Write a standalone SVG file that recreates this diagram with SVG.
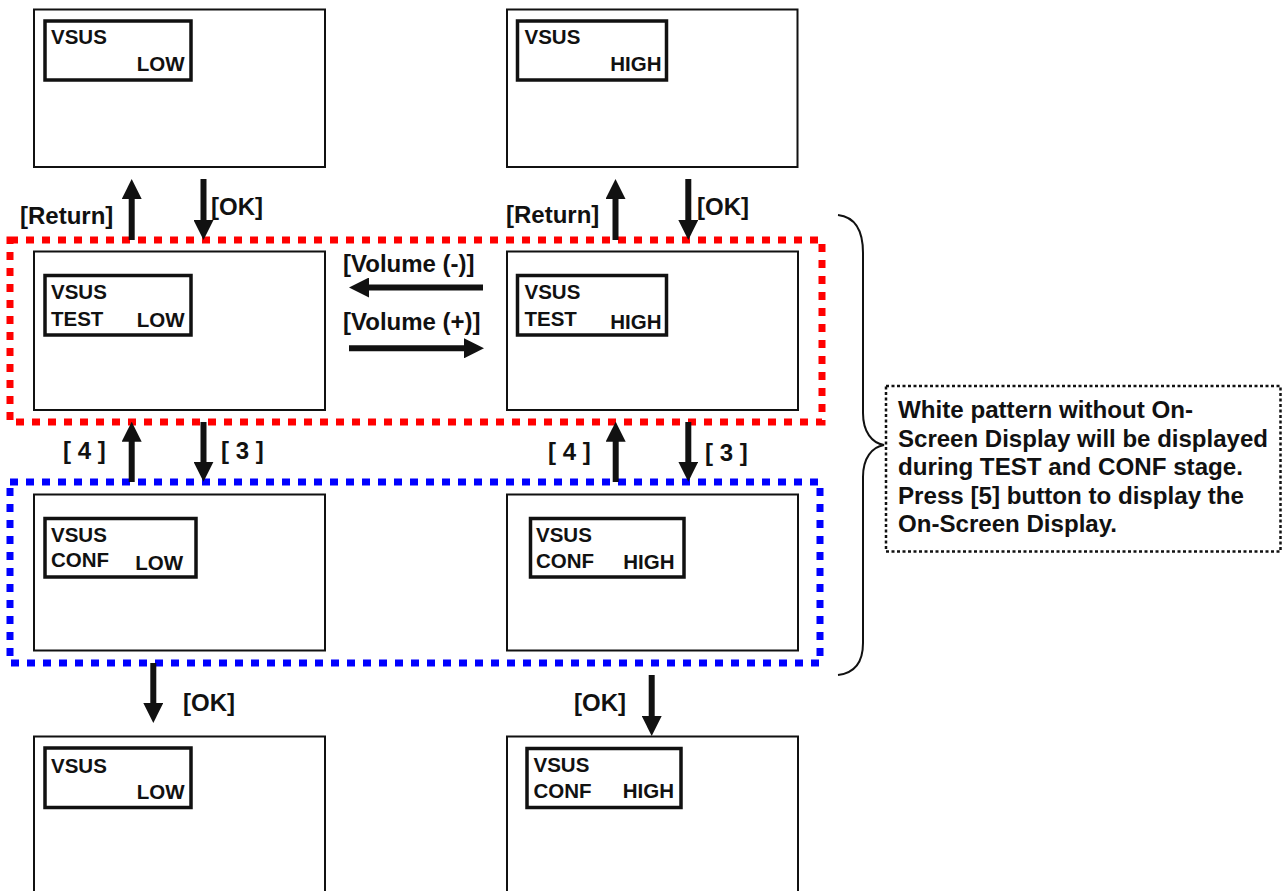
<svg xmlns="http://www.w3.org/2000/svg" width="1282" height="891" viewBox="0 0 1282 891">
<defs>
<style>
.scr{fill:#fff;stroke:#111;stroke-width:2}
.osd{fill:#fff;stroke:#111;stroke-width:3.5}
.t{font-family:"Liberation Sans",Arial,sans-serif;font-weight:bold;font-size:20.5px;fill:#111}
.lb{font-family:"Liberation Sans",Arial,sans-serif;font-weight:bold;font-size:24px;fill:#111}
.nt{font-family:"Liberation Sans",Arial,sans-serif;font-weight:bold;font-size:23px;fill:#111}
.ar{stroke:#111;stroke-width:6;fill:none;marker-end:url(#ah)}
.red{fill:none;stroke:#ff0000;stroke-width:7;stroke-dasharray:8 8}
.blue{fill:none;stroke:#0000ff;stroke-width:7;stroke-dasharray:8 8}
</style>
<marker id="ah" markerUnits="userSpaceOnUse" viewBox="0 0 20 20" refX="4" refY="10" markerWidth="20" markerHeight="20" orient="auto">
<path d="M0,0 L20,10 L0,20 z" fill="#111"/>
</marker>
</defs>
<rect width="1282" height="891" fill="#fff"/>

<g id="group-test">
<rect class="red" x="10" y="240" width="812" height="182"/>
</g>
<g id="group-conf">
<rect class="blue" x="10" y="482" width="810" height="181"/>
</g>

<g id="screen-top-low">
<rect class="scr" x="34" y="9.5" width="291" height="157.5"/>
<rect class="osd" x="45" y="21" width="146" height="59"/>
<text class="t" x="51" y="44">VSUS</text>
<text class="t" x="184.5" y="71" text-anchor="end">LOW</text>
</g>
<g id="screen-top-high">
<rect class="scr" x="507" y="9.5" width="290.5" height="157.5"/>
<rect class="osd" x="517.5" y="21" width="149" height="59"/>
<text class="t" x="524.5" y="44">VSUS</text>
<text class="t" x="661.5" y="71" text-anchor="end">HIGH</text>
</g>
<g id="screen-test-low">
<rect class="scr" x="34" y="251.5" width="291" height="158.5"/>
<rect class="osd" x="45" y="275.5" width="146" height="59.5"/>
<text class="t" x="51" y="299">VSUS</text>
<text class="t" x="51" y="326">TEST</text>
<text class="t" x="184.5" y="327" text-anchor="end">LOW</text>
</g>
<g id="screen-test-high">
<rect class="scr" x="507" y="251.5" width="291" height="158.5"/>
<rect class="osd" x="517.5" y="275.5" width="149" height="59.5"/>
<text class="t" x="524.5" y="299">VSUS</text>
<text class="t" x="524.5" y="326">TEST</text>
<text class="t" x="661.5" y="329" text-anchor="end">HIGH</text>
</g>
<g id="screen-conf-low">
<rect class="scr" x="34" y="494.5" width="291" height="156"/>
<rect class="osd" x="45" y="518.5" width="151" height="58.5"/>
<text class="t" x="51" y="542">VSUS</text>
<text class="t" x="51" y="567">CONF</text>
<text class="t" x="183" y="569.5" text-anchor="end">LOW</text>
</g>
<g id="screen-conf-high">
<rect class="scr" x="507" y="494.5" width="291" height="156"/>
<rect class="osd" x="530.5" y="518.5" width="153.5" height="58.5"/>
<text class="t" x="536" y="542">VSUS</text>
<text class="t" x="536" y="567.5">CONF</text>
<text class="t" x="674.5" y="568.5" text-anchor="end">HIGH</text>
</g>
<g id="screen-bottom-low">
<rect class="scr" x="34" y="736.5" width="291" height="200"/>
<rect class="osd" x="45" y="748" width="146" height="59.5"/>
<text class="t" x="51" y="772.5">VSUS</text>
<text class="t" x="184.5" y="798.5" text-anchor="end">LOW</text>
</g>
<g id="screen-bottom-high">
<rect class="scr" x="507" y="736.5" width="291" height="200"/>
<rect class="osd" x="527" y="748.5" width="154" height="59"/>
<text class="t" x="533.5" y="772">VSUS</text>
<text class="t" x="533.5" y="798">CONF</text>
<text class="t" x="674" y="798" text-anchor="end">HIGH</text>
</g>

<g id="connectors">
<line class="ar" x1="131.7" y1="240" x2="131.7" y2="195"/>
<line class="ar" x1="203.5" y1="179" x2="203.5" y2="224"/>
<line class="ar" x1="615.5" y1="240" x2="615.5" y2="195"/>
<line class="ar" x1="688.3" y1="179" x2="688.3" y2="224"/>
<line class="ar" x1="483" y1="287.5" x2="365" y2="287.5"/>
<line class="ar" x1="349" y1="348.3" x2="468" y2="348.3"/>
<line class="ar" x1="131.7" y1="482" x2="131.7" y2="437.7"/>
<line class="ar" x1="203.5" y1="422" x2="203.5" y2="465.7"/>
<line class="ar" x1="615.7" y1="482" x2="615.7" y2="437.7"/>
<line class="ar" x1="688.3" y1="422" x2="688.3" y2="465.7"/>
<line class="ar" x1="153.3" y1="663" x2="153.3" y2="707"/>
<line class="ar" x1="651.7" y1="675" x2="651.7" y2="720"/>
<text class="lb" x="20" y="224">[Return]</text>
<text class="lb" x="211" y="215">[OK]</text>
<text class="lb" x="506" y="223">[Return]</text>
<text class="lb" x="697" y="215">[OK]</text>
<text class="lb" x="343" y="272">[Volume (-)]</text>
<text class="lb" x="343" y="330">[Volume (+)]</text>
<text class="lb" x="63" y="459">[ 4 ]</text>
<text class="lb" x="221" y="459">[ 3 ]</text>
<text class="lb" x="548" y="460">[ 4 ]</text>
<text class="lb" x="705" y="461">[ 3 ]</text>
<text class="lb" x="183" y="711">[OK]</text>
<text class="lb" x="574" y="711">[OK]</text>
</g>

<g id="brace">
<path d="M838,215 C855,217 863,230 863,253 L863,413 C863,432 872,443 884,445 C872,447 863,458 863,477 L863,643 C863,662 855,673 838,675" fill="none" stroke="#111" stroke-width="2"/>
</g>
<g id="note">
<rect x="886" y="386" width="394.5" height="165.5" fill="#fff" stroke="#111" stroke-width="2.5" stroke-dasharray="3 2.5"/>
<text class="nt" x="898" y="418" textLength="295" lengthAdjust="spacingAndGlyphs">White pattern without On-</text>
<text class="nt" x="898" y="446.5" textLength="370" lengthAdjust="spacingAndGlyphs">Screen Display will be displayed</text>
<text class="nt" x="898" y="475" textLength="345" lengthAdjust="spacingAndGlyphs">during TEST and CONF stage.</text>
<text class="nt" x="898" y="503.5" textLength="346" lengthAdjust="spacingAndGlyphs">Press [5] button to display the</text>
<text class="nt" x="898" y="532" textLength="219" lengthAdjust="spacingAndGlyphs">On-Screen Display.</text>
</g>
</svg>
